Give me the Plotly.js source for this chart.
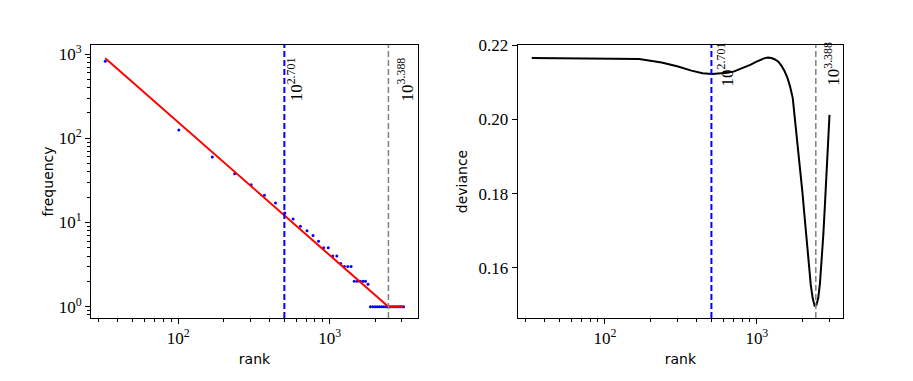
<!DOCTYPE html>
<html>
<head>
<meta charset="utf-8">
<script src="https://cdn.plot.ly/plotly-3.0.1.min.js"></script>
<style>
  html, body { margin: 0; padding: 0; background: #fff; }
  #chart { width: 913px; height: 381px; }
</style>
</head>
<body>
<div id="chart"></div>
<script>
// sampled ranks and observed frequencies (left panel)
const ranks = [33, 101, 168, 236, 303, 371, 439, 506, 574, 641, 709, 777, 844, 912, 979, 1047,
    1115, 1182, 1250, 1317, 1385, 1453, 1520, 1588, 1655, 1723, 1791, 1858, 1926, 1993, 2061,
    2129, 2196, 2264, 2331, 2399, 2467, 2534, 2602, 2669, 2737, 2805, 2872, 2940, 3007, 3075];
const freqs = [820, 125, 60, 38, 28, 21, 17, 13, 11, 9, 8, 7, 6, 5, 5, 4,
    4, 3.25, 3, 3, 3, 2, 2, 2, 2, 2, 1.85, 1, 1, 1, 1,
    1, 1, 1, 1, 1, 1, 1, 1, 1, 1, 1, 1, 1, 1, 1];

// fitted power law + flat tail (red)
const fitRanks = [33, 2443, 3075];
const fitFreqs = [890, 1, 1];

// deviance for each candidate cut (right panel)
const deviance = [0.2165, 0.2164, 0.2162, 0.2153, 0.2142, 0.2131, 0.2124, 0.2122, 0.2123, 0.2125,
    0.2129, 0.2135, 0.2140, 0.2147, 0.2154, 0.2160, 0.2164, 0.2166, 0.2165, 0.2161,
    0.2155, 0.2144, 0.2130, 0.2112, 0.2088, 0.2057, 0.1994, 0.1931, 0.1859, 0.1805,
    0.1738, 0.1670, 0.1607, 0.1554, 0.1518, 0.1498, 0.1500, 0.1518, 0.1558, 0.1616,
    0.1688, 0.1769, 0.1850, 0.1931, 0.2012];

// cut points, as log10(rank)
const cutLow = 2.701;
const cutHigh = 3.388;

const serif = 'Liberation Serif, Times New Roman, serif';
const sans = 'DejaVu Sans, sans-serif';

function minorLog(lo, hi) {
    const v = [];
    for (let e = lo; e <= hi; e++) {
        for (let m = 2; m <= 9; m++) v.push(m * Math.pow(10, e));
    }
    return v;
}

const traces = [
    {
        x: ranks, y: freqs, xaxis: 'x', yaxis: 'y',
        type: 'scatter', mode: 'markers',
        marker: { color: '#0000ff', size: 3 }
    },
    {
        x: fitRanks, y: fitFreqs, xaxis: 'x', yaxis: 'y',
        type: 'scatter', mode: 'lines',
        line: { color: '#ff0000', width: 2 }
    },
    {
        x: ranks.slice(0, deviance.length), y: deviance, xaxis: 'x2', yaxis: 'y2',
        type: 'scatter', mode: 'lines',
        line: { color: '#000000', width: 2 }
    }
];

function vline(xr, yr, val, color, width) {
    return {
        type: 'line', xref: xr, yref: yr + ' domain',
        x0: Math.pow(10, val), x1: Math.pow(10, val), y0: 0, y1: 1,
        line: { color: color, width: width, dash: '6px,3px' },
        layer: 'above'
    };
}

function cutLabel(xr, yr, val, yPos, shift) {
    return {
        xref: xr, yref: yr + ' domain', x: val, y: yPos,
        text: '10<sup>' + val.toFixed(3) + '</sup>',
        textangle: -90, showarrow: false,
        xanchor: 'center', yanchor: 'bottom', xshift: shift,
        font: { family: serif, size: 17, color: '#000' }
    };
}

const axisBase = {
    showline: true, mirror: true, linecolor: '#000', linewidth: 1,
    ticks: 'outside', ticklen: 5, tickwidth: 1, tickcolor: '#000',
    showgrid: false, zeroline: false,
    tickfont: { family: serif, size: 17, color: '#000' }
};

const layout = {
    width: 913, height: 381,
    margin: { l: 91, r: 70, t: 45, b: 63 },
    paper_bgcolor: '#fff', plot_bgcolor: '#fff',
    showlegend: false,
    xaxis: Object.assign({}, axisBase, {
        type: 'log', domain: [0, 0.4348], range: [1.4245, 3.583],
        tickvals: [100, 1000], ticktext: ['10<sup>2</sup>', '10<sup>3</sup>'],
        minor: { tickmode: 'array', tickvals: minorLog(1, 3), ticks: 'outside', ticklen: 3, tickcolor: '#000' },
        title: { text: 'rank', font: { family: sans, size: 14, color: '#000' }, standoff: 6 }
    }),
    yaxis: Object.assign({}, axisBase, {
        type: 'log', domain: [0, 1], range: [-0.134, 3.107],
        tickvals: [1, 10, 100, 1000],
        ticktext: ['10<sup>0</sup>', '10<sup>1</sup>', '10<sup>2</sup>', '10<sup>3</sup>'],
        minor: { tickmode: 'array', tickvals: minorLog(-1, 3), ticks: 'outside', ticklen: 3, tickcolor: '#000' },
        title: { text: 'frequency', font: { family: sans, size: 14, color: '#000' }, standoff: 1 }
    }),
    xaxis2: Object.assign({}, axisBase, {
        type: 'log', domain: [0.5674, 1], range: [1.4258, 3.567], anchor: 'y2',
        tickvals: [100, 1000], ticktext: ['10<sup>2</sup>', '10<sup>3</sup>'],
        minor: { tickmode: 'array', tickvals: minorLog(1, 3), ticks: 'outside', ticklen: 3, tickcolor: '#000' },
        title: { text: 'rank', font: { family: sans, size: 14, color: '#000' }, standoff: 6 }
    }),
    yaxis2: Object.assign({}, axisBase, {
        domain: [0, 1], range: [0.1465, 0.22], anchor: 'x2',
        tickvals: [0.16, 0.18, 0.20, 0.22], tickformat: '.2f',
        title: { text: 'deviance', font: { family: sans, size: 14, color: '#000' }, standoff: 7 }
    }),
    shapes: [
        vline('x', 'y', cutLow, '#0000ff', 2),
        vline('x', 'y', cutHigh, '#808080', 1.5),
        vline('x2', 'y2', cutLow, '#0000ff', 2),
        vline('x2', 'y2', cutHigh, '#808080', 1.5)
    ],
    annotations: [
        cutLabel('x', 'y', cutLow, 0.7875, 11),
        cutLabel('x', 'y', cutHigh, 0.7875, 17),
        cutLabel('x2', 'y2', cutLow, 0.8425, 14),
        cutLabel('x2', 'y2', cutHigh, 0.8425, 16)
    ]
};

Plotly.newPlot('chart', traces, layout, { displayModeBar: false, staticPlot: true });
</script>
</body>
</html>
